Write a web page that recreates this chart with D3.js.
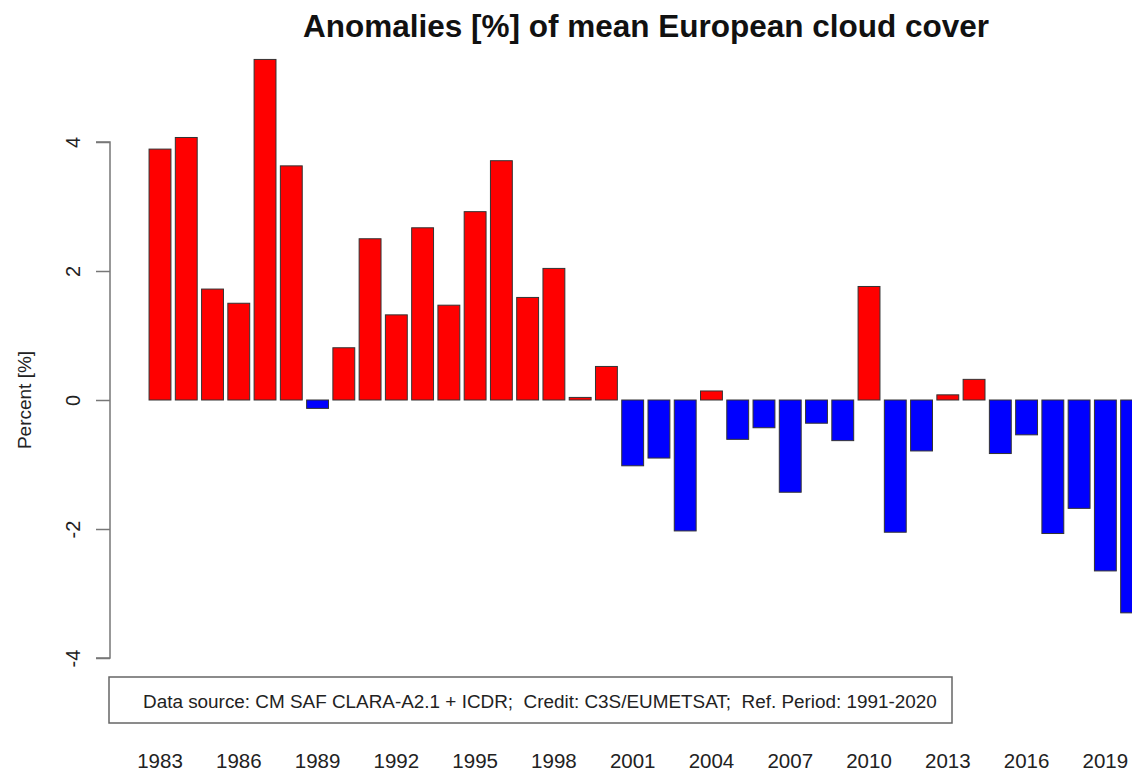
<!DOCTYPE html>
<html>
<head>
<meta charset="utf-8">
<script src="https://cdn.jsdelivr.net/npm/d3@7"></script>
<style>
  html, body { margin: 0; padding: 0; background: #fff; }
  svg { display: block; }
  text { font-family: "Liberation Sans", Arial, Helvetica, sans-serif; }
</style>
</head>
<body>
<svg id="chart" width="1132" height="771"></svg>
<script>
// ---- data ----
const years = [1983,1984,1985,1986,1987,1988,1989,1990,1991,1992,1993,1994,1995,1996,1997,1998,1999,2000,
               2001,2002,2003,2004,2005,2006,2007,2008,2009,2010,2011,2012,2013,2014,2015,2016,2017,2018,2019,2020];
const anomalies = [3.89,4.07,1.72,1.50,5.28,3.63,-0.13,0.81,2.50,1.32,2.67,1.47,2.92,3.71,1.59,2.04,0.04,0.52,
                   -1.02,-0.90,-2.03,0.14,-0.61,-0.43,-1.43,-0.36,-0.63,1.76,-2.05,-0.79,0.08,0.32,-0.83,-0.54,-2.07,-1.68,-2.65,-3.30];
const yTicks = [-4,-2,0,2,4];
const xTickLabels = [1983,1986,1989,1992,1995,1998,2001,2004,2007,2010,2013,2016,2019];
const titleText = "Anomalies [%] of mean European cloud cover";
const yLabelText = "Percent [%]";
const sourceText = "Data source: CM SAF CLARA-A2.1 + ICDR;  Credit: C3S/EUMETSAT;  Ref. Period: 1991-2020";

// ---- layout ----
const svg = d3.select("#chart");
const step = 26.26;
const firstCenter = 160;
const x = d3.scaleBand()
  .domain(years)
  .range([firstCenter - step / 2, firstCenter - step / 2 + step * years.length])
  .paddingInner(0.2 / 1.2)
  .paddingOuter(0.1 / 1.2);
const y = d3.scaleLinear().domain([-4, 4]).range([658, 142]);

// bars
svg.append("g").selectAll("rect")
  .data(years.map((yr, i) => ({ yr, v: anomalies[i] })))
  .join("rect")
  .attr("x", d => x(d.yr))
  .attr("width", x.bandwidth())
  .attr("y", d => y(Math.max(0, d.v)))
  .attr("height", d => Math.abs(y(d.v) - y(0)))
  .attr("fill", d => d.v >= 0 ? "#ff0000" : "#0000ff")
  .attr("stroke", "#333")
  .attr("stroke-width", 1);

// y axis
const yAxis = d3.axisLeft(y).tickValues(yTicks).tickSize(14).tickFormat(d3.format("d"));
const gy = svg.append("g").attr("transform", "translate(110,0)").call(yAxis);
gy.select(".domain").attr("stroke", "#777").attr("stroke-width", 1.5).attr("d", `M-14,${y(4)}H0V${y(-4)}H-14`);
gy.selectAll(".tick line").attr("stroke", "#777").attr("stroke-width", 1.5);
gy.selectAll(".tick text")
  .attr("font-size", 20)
  .attr("fill", "#222")
  .attr("text-anchor", "middle")
  .attr("x", null).attr("dy", null)
  .attr("transform", "translate(-30,0) rotate(-90)")
  .text(d => d < 0 ? "-" + Math.abs(d) : d);

// x labels (no axis line)
const xAxis = d3.axisBottom(x).tickValues(xTickLabels).tickSize(0);
const gx = svg.append("g").attr("transform", "translate(0,748)").call(xAxis);
gx.select(".domain").remove();
gx.selectAll(".tick text").attr("font-size", 20.5).attr("fill", "#222").attr("dy", null).attr("y", 20);

// title
svg.append("text")
  .attr("x", 646).attr("y", 37)
  .attr("text-anchor", "middle")
  .attr("font-size", 31.5).attr("font-weight", "bold").attr("fill", "#111")
  .text(titleText);

// y label
svg.append("text")
  .attr("transform", "translate(31,400) rotate(-90)")
  .attr("text-anchor", "middle")
  .attr("font-size", 19).attr("fill", "#222")
  .text(yLabelText);

// source box
svg.append("rect")
  .attr("x", 109).attr("y", 677).attr("width", 843).attr("height", 46)
  .attr("fill", "#fff").attr("stroke", "#666").attr("stroke-width", 1.5);
svg.append("text")
  .attr("x", 143).attr("y", 708)
  .attr("font-size", 18.9).attr("fill", "#222")
  .style("white-space", "pre")
  .text(sourceText);
</script>
</body>
</html>
